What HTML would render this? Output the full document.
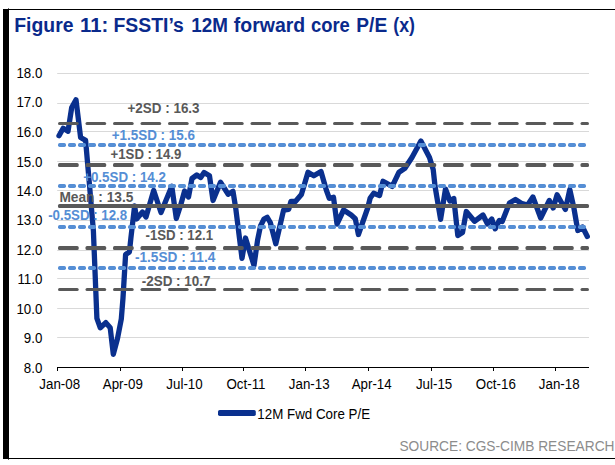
<!DOCTYPE html>
<html><head><meta charset="utf-8"><title>Figure 11</title>
<style>
html,body{margin:0;padding:0;background:#fff;}
body{width:615px;height:465px;overflow:hidden;font-family:"Liberation Sans",sans-serif;}
svg{display:block;}
text{font-family:"Liberation Sans",sans-serif;}
.ax{font-size:13.3px;fill:#000;}
.lb{font-size:13.2px;font-weight:bold;}
</style></head><body>
<svg width="615" height="465" viewBox="0 0 615 465">
<rect width="615" height="465" fill="#fff"/>
<rect x="3" y="9" width="6" height="450" fill="#000"/>
<rect x="8" y="9" width="607" height="1" fill="#000"/>
<rect x="8" y="8" width="1" height="1" fill="#000" opacity="0.6"/>
<rect x="8" y="459" width="1" height="1" fill="#000" opacity="0.6"/>
<rect x="8" y="458" width="607" height="1" fill="#000"/>
<text x="14.30" y="31.8" font-size="19.5" font-weight="bold" fill="#0a2a8c" textLength="59.16" lengthAdjust="spacingAndGlyphs">Figure</text>
<text x="80.12" y="31.8" font-size="19.5" font-weight="bold" fill="#0a2a8c" textLength="28.23" lengthAdjust="spacingAndGlyphs">11:</text>
<text x="113.50" y="31.8" font-size="19.5" font-weight="bold" fill="#0a2a8c" textLength="70.39" lengthAdjust="spacingAndGlyphs">FSSTI’s</text>
<text x="191.31" y="31.8" font-size="19.5" font-weight="bold" fill="#0a2a8c" textLength="36.65" lengthAdjust="spacingAndGlyphs">12M</text>
<text x="233.87" y="31.8" font-size="19.5" font-weight="bold" fill="#0a2a8c" textLength="71.31" lengthAdjust="spacingAndGlyphs">forward</text>
<text x="310.98" y="31.8" font-size="19.5" font-weight="bold" fill="#0a2a8c" textLength="38.85" lengthAdjust="spacingAndGlyphs">core</text>
<text x="356.32" y="31.8" font-size="19.5" font-weight="bold" fill="#0a2a8c" textLength="30.83" lengthAdjust="spacingAndGlyphs">P/E</text>
<text x="393.32" y="31.8" font-size="19.5" font-weight="bold" fill="#0a2a8c" textLength="21.67" lengthAdjust="spacingAndGlyphs">(x)</text>
<line x1="57.2" y1="73.50" x2="589.0" y2="73.50" stroke="#d9d9d9" stroke-width="1"/>
<text transform="translate(42.40,78.00) scale(0.9174,1)" font-size="14.53" text-anchor="end" fill="#000">18.0</text>
<line x1="57.2" y1="103.50" x2="589.0" y2="103.50" stroke="#d9d9d9" stroke-width="1"/>
<text transform="translate(42.40,107.00) scale(0.9174,1)" font-size="14.53" text-anchor="end" fill="#000">17.0</text>
<line x1="57.2" y1="131.50" x2="589.0" y2="131.50" stroke="#d9d9d9" stroke-width="1"/>
<text transform="translate(42.40,137.00) scale(0.9174,1)" font-size="14.53" text-anchor="end" fill="#000">16.0</text>
<line x1="57.2" y1="161.50" x2="589.0" y2="161.50" stroke="#d9d9d9" stroke-width="1"/>
<text transform="translate(42.40,167.00) scale(0.9174,1)" font-size="14.53" text-anchor="end" fill="#000">15.0</text>
<line x1="57.2" y1="190.50" x2="589.0" y2="190.50" stroke="#d9d9d9" stroke-width="1"/>
<text transform="translate(42.40,196.00) scale(0.9174,1)" font-size="14.53" text-anchor="end" fill="#000">14.0</text>
<line x1="57.2" y1="220.50" x2="589.0" y2="220.50" stroke="#d9d9d9" stroke-width="1"/>
<text transform="translate(42.40,225.00) scale(0.9174,1)" font-size="14.53" text-anchor="end" fill="#000">13.0</text>
<line x1="57.2" y1="250.50" x2="589.0" y2="250.50" stroke="#d9d9d9" stroke-width="1"/>
<text transform="translate(42.40,255.00) scale(0.9174,1)" font-size="14.53" text-anchor="end" fill="#000">12.0</text>
<line x1="57.2" y1="278.50" x2="589.0" y2="278.50" stroke="#d9d9d9" stroke-width="1"/>
<text transform="translate(42.40,284.00) scale(0.9174,1)" font-size="14.53" text-anchor="end" fill="#000">11.0</text>
<line x1="57.2" y1="308.50" x2="589.0" y2="308.50" stroke="#d9d9d9" stroke-width="1"/>
<text transform="translate(42.40,314.00) scale(0.9174,1)" font-size="14.53" text-anchor="end" fill="#000">10.0</text>
<line x1="57.2" y1="337.50" x2="589.0" y2="337.50" stroke="#d9d9d9" stroke-width="1"/>
<text transform="translate(42.40,343.00) scale(0.9174,1)" font-size="14.53" text-anchor="end" fill="#000">9.0</text>
<text transform="translate(42.40,373.00) scale(0.9174,1)" font-size="14.53" text-anchor="end" fill="#000">8.0</text>
<line x1="57" y1="367.5" x2="589.0" y2="367.5" stroke="#000" stroke-width="1"/>
<line x1="57.5" y1="367.0" x2="57.5" y2="371.0" stroke="#000" stroke-width="1"/>
<text transform="translate(59.75,389.00) scale(0.9174,1)" font-size="14.53" text-anchor="middle" fill="#000">Jan-08</text>
<line x1="120.5" y1="367.0" x2="120.5" y2="371.0" stroke="#000" stroke-width="1"/>
<text transform="translate(122.80,389.00) scale(0.9174,1)" font-size="14.53" text-anchor="middle" fill="#000">Apr-09</text>
<line x1="182.5" y1="367.0" x2="182.5" y2="371.0" stroke="#000" stroke-width="1"/>
<text transform="translate(184.50,389.00) scale(0.9174,1)" font-size="14.53" text-anchor="middle" fill="#000">Jul-10</text>
<line x1="243.5" y1="367.0" x2="243.5" y2="371.0" stroke="#000" stroke-width="1"/>
<text transform="translate(246.00,389.00) scale(0.9174,1)" font-size="14.53" text-anchor="middle" fill="#000">Oct-11</text>
<line x1="305.5" y1="367.0" x2="305.5" y2="371.0" stroke="#000" stroke-width="1"/>
<text transform="translate(309.20,389.00) scale(0.9174,1)" font-size="14.53" text-anchor="middle" fill="#000">Jan-13</text>
<line x1="368.5" y1="367.0" x2="368.5" y2="371.0" stroke="#000" stroke-width="1"/>
<text transform="translate(371.70,389.00) scale(0.9174,1)" font-size="14.53" text-anchor="middle" fill="#000">Apr-14</text>
<line x1="431.5" y1="367.0" x2="431.5" y2="371.0" stroke="#000" stroke-width="1"/>
<text transform="translate(434.10,389.00) scale(0.9174,1)" font-size="14.53" text-anchor="middle" fill="#000">Jul-15</text>
<line x1="493.5" y1="367.0" x2="493.5" y2="371.0" stroke="#000" stroke-width="1"/>
<text transform="translate(495.80,389.00) scale(0.9174,1)" font-size="14.53" text-anchor="middle" fill="#000">Oct-16</text>
<line x1="555.5" y1="367.0" x2="555.5" y2="371.0" stroke="#000" stroke-width="1"/>
<text transform="translate(559.20,389.00) scale(0.9174,1)" font-size="14.53" text-anchor="middle" fill="#000">Jan-18</text>
<path d="M59.0,135.8 L63.2,128.3 L68.0,131.3 L71.7,107.5 L76.0,99.8 L80.6,137.5 L85.6,140.4 L89.5,185.0 L93.4,231.0 L96.9,318.4 L100.3,327.8 L105.8,322.6 L110.2,327.8 L113.3,354.3 L117.5,338.5 L121.3,319.0 L123.0,298.0 L125.6,254.5 L129.4,252.0 L130.9,238.0 L134.6,206.0 L136.6,219.0 L142.5,212.0 L146.0,217.0 L153.7,190.5 L161.0,212.5 L171.8,186.3 L176.3,218.5 L180.7,205.0 L184.6,191.0 L188.5,197.0 L192.0,178.5 L196.8,175.0 L200.7,177.5 L204.1,172.5 L209.5,175.8 L213.0,200.5 L220.5,182.3 L228.2,194.2 L233.0,191.3 L235.7,208.0 L242.0,258.3 L245.5,238.0 L254.0,265.5 L257.6,240.0 L260.5,226.0 L264.0,219.0 L267.2,217.3 L270.3,222.5 L275.8,243.8 L283.6,210.0 L288.7,209.3 L291.0,201.3 L295.4,201.5 L301.4,194.5 L308.0,172.3 L313.8,175.8 L321.0,171.5 L326.3,190.0 L329.3,198.3 L333.5,197.3 L337.0,224.0 L343.6,210.0 L351.2,215.0 L355.3,218.7 L358.4,234.5 L367.7,208.0 L370.2,198.0 L373.7,193.2 L379.5,195.6 L383.0,181.3 L392.2,186.4 L399.0,172.2 L404.9,168.3 L412.1,157.2 L420.9,141.0 L429.5,157.5 L433.2,169.5 L435.0,186.0 L440.6,219.3 L445.5,189.0 L449.9,201.0 L453.8,198.5 L457.8,235.5 L462.5,232.5 L466.3,211.5 L474.5,221.3 L483.0,215.0 L487.5,224.0 L491.8,219.0 L495.2,228.8 L499.3,220.5 L502.2,221.5 L509.5,203.0 L515.4,199.5 L521.2,203.3 L527.6,205.0 L532.9,197.0 L540.7,218.0 L549.3,200.5 L553.2,208.0 L557.1,194.8 L565.4,209.5 L569.8,189.5 L573.9,208.0 L577.8,230.5 L582.5,227.0 L587.3,236.5" fill="none" stroke="#0a308e" stroke-width="5.3" stroke-linejoin="round" stroke-linecap="round"/>
<rect x="58.00" y="122.00" width="20.70" height="3.0" rx="1.5" fill="#595959"/>
<rect x="85.50" y="122.00" width="20.70" height="3.0" rx="1.5" fill="#595959"/>
<rect x="113.00" y="122.00" width="20.70" height="3.0" rx="1.5" fill="#595959"/>
<rect x="140.50" y="122.00" width="20.70" height="3.0" rx="1.5" fill="#595959"/>
<rect x="168.00" y="122.00" width="20.70" height="3.0" rx="1.5" fill="#595959"/>
<rect x="195.50" y="122.00" width="20.70" height="3.0" rx="1.5" fill="#595959"/>
<rect x="223.00" y="122.00" width="20.70" height="3.0" rx="1.5" fill="#595959"/>
<rect x="250.50" y="122.00" width="20.70" height="3.0" rx="1.5" fill="#595959"/>
<rect x="278.00" y="122.00" width="20.70" height="3.0" rx="1.5" fill="#595959"/>
<rect x="305.50" y="122.00" width="20.70" height="3.0" rx="1.5" fill="#595959"/>
<rect x="333.00" y="122.00" width="20.70" height="3.0" rx="1.5" fill="#595959"/>
<rect x="360.50" y="122.00" width="20.70" height="3.0" rx="1.5" fill="#595959"/>
<rect x="388.00" y="122.00" width="20.70" height="3.0" rx="1.5" fill="#595959"/>
<rect x="415.50" y="122.00" width="20.70" height="3.0" rx="1.5" fill="#595959"/>
<rect x="443.00" y="122.00" width="20.70" height="3.0" rx="1.5" fill="#595959"/>
<rect x="470.50" y="122.00" width="20.70" height="3.0" rx="1.5" fill="#595959"/>
<rect x="498.00" y="122.00" width="20.70" height="3.0" rx="1.5" fill="#595959"/>
<rect x="525.50" y="122.00" width="20.70" height="3.0" rx="1.5" fill="#595959"/>
<rect x="553.00" y="122.00" width="20.70" height="3.0" rx="1.5" fill="#595959"/>
<rect x="580.50" y="122.00" width="8.50" height="3.0" rx="1.5" fill="#595959"/>
<rect x="58.00" y="163.00" width="20.70" height="4.0" rx="1.5" fill="#595959"/>
<rect x="85.50" y="163.00" width="20.70" height="4.0" rx="1.5" fill="#595959"/>
<rect x="113.00" y="163.00" width="20.70" height="4.0" rx="1.5" fill="#595959"/>
<rect x="140.50" y="163.00" width="20.70" height="4.0" rx="1.5" fill="#595959"/>
<rect x="168.00" y="163.00" width="20.70" height="4.0" rx="1.5" fill="#595959"/>
<rect x="195.50" y="163.00" width="20.70" height="4.0" rx="1.5" fill="#595959"/>
<rect x="223.00" y="163.00" width="20.70" height="4.0" rx="1.5" fill="#595959"/>
<rect x="250.50" y="163.00" width="20.70" height="4.0" rx="1.5" fill="#595959"/>
<rect x="278.00" y="163.00" width="20.70" height="4.0" rx="1.5" fill="#595959"/>
<rect x="305.50" y="163.00" width="20.70" height="4.0" rx="1.5" fill="#595959"/>
<rect x="333.00" y="163.00" width="20.70" height="4.0" rx="1.5" fill="#595959"/>
<rect x="360.50" y="163.00" width="20.70" height="4.0" rx="1.5" fill="#595959"/>
<rect x="388.00" y="163.00" width="20.70" height="4.0" rx="1.5" fill="#595959"/>
<rect x="415.50" y="163.00" width="20.70" height="4.0" rx="1.5" fill="#595959"/>
<rect x="443.00" y="163.00" width="20.70" height="4.0" rx="1.5" fill="#595959"/>
<rect x="470.50" y="163.00" width="20.70" height="4.0" rx="1.5" fill="#595959"/>
<rect x="498.00" y="163.00" width="20.70" height="4.0" rx="1.5" fill="#595959"/>
<rect x="525.50" y="163.00" width="20.70" height="4.0" rx="1.5" fill="#595959"/>
<rect x="553.00" y="163.00" width="20.70" height="4.0" rx="1.5" fill="#595959"/>
<rect x="580.50" y="163.00" width="8.50" height="4.0" rx="1.5" fill="#595959"/>
<rect x="58.00" y="246.00" width="20.70" height="4.0" rx="1.5" fill="#595959"/>
<rect x="85.50" y="246.00" width="20.70" height="4.0" rx="1.5" fill="#595959"/>
<rect x="113.00" y="246.00" width="20.70" height="4.0" rx="1.5" fill="#595959"/>
<rect x="140.50" y="246.00" width="20.70" height="4.0" rx="1.5" fill="#595959"/>
<rect x="168.00" y="246.00" width="20.70" height="4.0" rx="1.5" fill="#595959"/>
<rect x="195.50" y="246.00" width="20.70" height="4.0" rx="1.5" fill="#595959"/>
<rect x="223.00" y="246.00" width="20.70" height="4.0" rx="1.5" fill="#595959"/>
<rect x="250.50" y="246.00" width="20.70" height="4.0" rx="1.5" fill="#595959"/>
<rect x="278.00" y="246.00" width="20.70" height="4.0" rx="1.5" fill="#595959"/>
<rect x="305.50" y="246.00" width="20.70" height="4.0" rx="1.5" fill="#595959"/>
<rect x="333.00" y="246.00" width="20.70" height="4.0" rx="1.5" fill="#595959"/>
<rect x="360.50" y="246.00" width="20.70" height="4.0" rx="1.5" fill="#595959"/>
<rect x="388.00" y="246.00" width="20.70" height="4.0" rx="1.5" fill="#595959"/>
<rect x="415.50" y="246.00" width="20.70" height="4.0" rx="1.5" fill="#595959"/>
<rect x="443.00" y="246.00" width="20.70" height="4.0" rx="1.5" fill="#595959"/>
<rect x="470.50" y="246.00" width="20.70" height="4.0" rx="1.5" fill="#595959"/>
<rect x="498.00" y="246.00" width="20.70" height="4.0" rx="1.5" fill="#595959"/>
<rect x="525.50" y="246.00" width="20.70" height="4.0" rx="1.5" fill="#595959"/>
<rect x="553.00" y="246.00" width="20.70" height="4.0" rx="1.5" fill="#595959"/>
<rect x="580.50" y="246.00" width="8.50" height="4.0" rx="1.5" fill="#595959"/>
<rect x="58.00" y="288.00" width="20.70" height="3.0" rx="1.5" fill="#595959"/>
<rect x="85.50" y="288.00" width="20.70" height="3.0" rx="1.5" fill="#595959"/>
<rect x="113.00" y="288.00" width="20.70" height="3.0" rx="1.5" fill="#595959"/>
<rect x="140.50" y="288.00" width="20.70" height="3.0" rx="1.5" fill="#595959"/>
<rect x="168.00" y="288.00" width="20.70" height="3.0" rx="1.5" fill="#595959"/>
<rect x="195.50" y="288.00" width="20.70" height="3.0" rx="1.5" fill="#595959"/>
<rect x="223.00" y="288.00" width="20.70" height="3.0" rx="1.5" fill="#595959"/>
<rect x="250.50" y="288.00" width="20.70" height="3.0" rx="1.5" fill="#595959"/>
<rect x="278.00" y="288.00" width="20.70" height="3.0" rx="1.5" fill="#595959"/>
<rect x="305.50" y="288.00" width="20.70" height="3.0" rx="1.5" fill="#595959"/>
<rect x="333.00" y="288.00" width="20.70" height="3.0" rx="1.5" fill="#595959"/>
<rect x="360.50" y="288.00" width="20.70" height="3.0" rx="1.5" fill="#595959"/>
<rect x="388.00" y="288.00" width="20.70" height="3.0" rx="1.5" fill="#595959"/>
<rect x="415.50" y="288.00" width="20.70" height="3.0" rx="1.5" fill="#595959"/>
<rect x="443.00" y="288.00" width="20.70" height="3.0" rx="1.5" fill="#595959"/>
<rect x="470.50" y="288.00" width="20.70" height="3.0" rx="1.5" fill="#595959"/>
<rect x="498.00" y="288.00" width="20.70" height="3.0" rx="1.5" fill="#595959"/>
<rect x="525.50" y="288.00" width="20.70" height="3.0" rx="1.5" fill="#595959"/>
<rect x="553.00" y="288.00" width="20.70" height="3.0" rx="1.5" fill="#595959"/>
<rect x="580.50" y="288.00" width="8.50" height="3.0" rx="1.5" fill="#595959"/>
<rect x="58.00" y="143.00" width="8" height="4.0" rx="1.7" fill="#558ed5"/>
<rect x="68.00" y="143.00" width="8" height="4.0" rx="1.7" fill="#558ed5"/>
<rect x="78.00" y="143.00" width="8" height="4.0" rx="1.7" fill="#558ed5"/>
<rect x="88.00" y="143.00" width="8" height="4.0" rx="1.7" fill="#558ed5"/>
<rect x="98.00" y="143.00" width="8" height="4.0" rx="1.7" fill="#558ed5"/>
<rect x="108.00" y="143.00" width="8" height="4.0" rx="1.7" fill="#558ed5"/>
<rect x="118.00" y="143.00" width="8" height="4.0" rx="1.7" fill="#558ed5"/>
<rect x="128.00" y="143.00" width="8" height="4.0" rx="1.7" fill="#558ed5"/>
<rect x="138.00" y="143.00" width="8" height="4.0" rx="1.7" fill="#558ed5"/>
<rect x="148.00" y="143.00" width="8" height="4.0" rx="1.7" fill="#558ed5"/>
<rect x="158.00" y="143.00" width="8" height="4.0" rx="1.7" fill="#558ed5"/>
<rect x="168.00" y="143.00" width="8" height="4.0" rx="1.7" fill="#558ed5"/>
<rect x="178.00" y="143.00" width="8" height="4.0" rx="1.7" fill="#558ed5"/>
<rect x="188.00" y="143.00" width="8" height="4.0" rx="1.7" fill="#558ed5"/>
<rect x="198.00" y="143.00" width="8" height="4.0" rx="1.7" fill="#558ed5"/>
<rect x="208.00" y="143.00" width="8" height="4.0" rx="1.7" fill="#558ed5"/>
<rect x="218.00" y="143.00" width="8" height="4.0" rx="1.7" fill="#558ed5"/>
<rect x="228.00" y="143.00" width="8" height="4.0" rx="1.7" fill="#558ed5"/>
<rect x="238.00" y="143.00" width="8" height="4.0" rx="1.7" fill="#558ed5"/>
<rect x="248.00" y="143.00" width="8" height="4.0" rx="1.7" fill="#558ed5"/>
<rect x="258.00" y="143.00" width="8" height="4.0" rx="1.7" fill="#558ed5"/>
<rect x="268.00" y="143.00" width="8" height="4.0" rx="1.7" fill="#558ed5"/>
<rect x="278.00" y="143.00" width="8" height="4.0" rx="1.7" fill="#558ed5"/>
<rect x="288.00" y="143.00" width="8" height="4.0" rx="1.7" fill="#558ed5"/>
<rect x="298.00" y="143.00" width="8" height="4.0" rx="1.7" fill="#558ed5"/>
<rect x="308.00" y="143.00" width="8" height="4.0" rx="1.7" fill="#558ed5"/>
<rect x="318.00" y="143.00" width="8" height="4.0" rx="1.7" fill="#558ed5"/>
<rect x="328.00" y="143.00" width="8" height="4.0" rx="1.7" fill="#558ed5"/>
<rect x="338.00" y="143.00" width="8" height="4.0" rx="1.7" fill="#558ed5"/>
<rect x="348.00" y="143.00" width="8" height="4.0" rx="1.7" fill="#558ed5"/>
<rect x="358.00" y="143.00" width="8" height="4.0" rx="1.7" fill="#558ed5"/>
<rect x="368.00" y="143.00" width="8" height="4.0" rx="1.7" fill="#558ed5"/>
<rect x="378.00" y="143.00" width="8" height="4.0" rx="1.7" fill="#558ed5"/>
<rect x="388.00" y="143.00" width="8" height="4.0" rx="1.7" fill="#558ed5"/>
<rect x="398.00" y="143.00" width="8" height="4.0" rx="1.7" fill="#558ed5"/>
<rect x="408.00" y="143.00" width="8" height="4.0" rx="1.7" fill="#558ed5"/>
<rect x="418.00" y="143.00" width="8" height="4.0" rx="1.7" fill="#558ed5"/>
<rect x="428.00" y="143.00" width="8" height="4.0" rx="1.7" fill="#558ed5"/>
<rect x="438.00" y="143.00" width="8" height="4.0" rx="1.7" fill="#558ed5"/>
<rect x="448.00" y="143.00" width="8" height="4.0" rx="1.7" fill="#558ed5"/>
<rect x="458.00" y="143.00" width="8" height="4.0" rx="1.7" fill="#558ed5"/>
<rect x="468.00" y="143.00" width="8" height="4.0" rx="1.7" fill="#558ed5"/>
<rect x="478.00" y="143.00" width="8" height="4.0" rx="1.7" fill="#558ed5"/>
<rect x="488.00" y="143.00" width="8" height="4.0" rx="1.7" fill="#558ed5"/>
<rect x="498.00" y="143.00" width="8" height="4.0" rx="1.7" fill="#558ed5"/>
<rect x="508.00" y="143.00" width="8" height="4.0" rx="1.7" fill="#558ed5"/>
<rect x="518.00" y="143.00" width="8" height="4.0" rx="1.7" fill="#558ed5"/>
<rect x="528.00" y="143.00" width="8" height="4.0" rx="1.7" fill="#558ed5"/>
<rect x="538.00" y="143.00" width="8" height="4.0" rx="1.7" fill="#558ed5"/>
<rect x="548.00" y="143.00" width="8" height="4.0" rx="1.7" fill="#558ed5"/>
<rect x="558.00" y="143.00" width="8" height="4.0" rx="1.7" fill="#558ed5"/>
<rect x="568.00" y="143.00" width="8" height="4.0" rx="1.7" fill="#558ed5"/>
<rect x="578.00" y="143.00" width="8" height="4.0" rx="1.7" fill="#558ed5"/>
<rect x="58.00" y="184.00" width="8" height="4.0" rx="1.7" fill="#558ed5"/>
<rect x="68.00" y="184.00" width="8" height="4.0" rx="1.7" fill="#558ed5"/>
<rect x="78.00" y="184.00" width="8" height="4.0" rx="1.7" fill="#558ed5"/>
<rect x="88.00" y="184.00" width="8" height="4.0" rx="1.7" fill="#558ed5"/>
<rect x="98.00" y="184.00" width="8" height="4.0" rx="1.7" fill="#558ed5"/>
<rect x="108.00" y="184.00" width="8" height="4.0" rx="1.7" fill="#558ed5"/>
<rect x="118.00" y="184.00" width="8" height="4.0" rx="1.7" fill="#558ed5"/>
<rect x="128.00" y="184.00" width="8" height="4.0" rx="1.7" fill="#558ed5"/>
<rect x="138.00" y="184.00" width="8" height="4.0" rx="1.7" fill="#558ed5"/>
<rect x="148.00" y="184.00" width="8" height="4.0" rx="1.7" fill="#558ed5"/>
<rect x="158.00" y="184.00" width="8" height="4.0" rx="1.7" fill="#558ed5"/>
<rect x="168.00" y="184.00" width="8" height="4.0" rx="1.7" fill="#558ed5"/>
<rect x="178.00" y="184.00" width="8" height="4.0" rx="1.7" fill="#558ed5"/>
<rect x="188.00" y="184.00" width="8" height="4.0" rx="1.7" fill="#558ed5"/>
<rect x="198.00" y="184.00" width="8" height="4.0" rx="1.7" fill="#558ed5"/>
<rect x="208.00" y="184.00" width="8" height="4.0" rx="1.7" fill="#558ed5"/>
<rect x="218.00" y="184.00" width="8" height="4.0" rx="1.7" fill="#558ed5"/>
<rect x="228.00" y="184.00" width="8" height="4.0" rx="1.7" fill="#558ed5"/>
<rect x="238.00" y="184.00" width="8" height="4.0" rx="1.7" fill="#558ed5"/>
<rect x="248.00" y="184.00" width="8" height="4.0" rx="1.7" fill="#558ed5"/>
<rect x="258.00" y="184.00" width="8" height="4.0" rx="1.7" fill="#558ed5"/>
<rect x="268.00" y="184.00" width="8" height="4.0" rx="1.7" fill="#558ed5"/>
<rect x="278.00" y="184.00" width="8" height="4.0" rx="1.7" fill="#558ed5"/>
<rect x="288.00" y="184.00" width="8" height="4.0" rx="1.7" fill="#558ed5"/>
<rect x="298.00" y="184.00" width="8" height="4.0" rx="1.7" fill="#558ed5"/>
<rect x="308.00" y="184.00" width="8" height="4.0" rx="1.7" fill="#558ed5"/>
<rect x="318.00" y="184.00" width="8" height="4.0" rx="1.7" fill="#558ed5"/>
<rect x="328.00" y="184.00" width="8" height="4.0" rx="1.7" fill="#558ed5"/>
<rect x="338.00" y="184.00" width="8" height="4.0" rx="1.7" fill="#558ed5"/>
<rect x="348.00" y="184.00" width="8" height="4.0" rx="1.7" fill="#558ed5"/>
<rect x="358.00" y="184.00" width="8" height="4.0" rx="1.7" fill="#558ed5"/>
<rect x="368.00" y="184.00" width="8" height="4.0" rx="1.7" fill="#558ed5"/>
<rect x="378.00" y="184.00" width="8" height="4.0" rx="1.7" fill="#558ed5"/>
<rect x="388.00" y="184.00" width="8" height="4.0" rx="1.7" fill="#558ed5"/>
<rect x="398.00" y="184.00" width="8" height="4.0" rx="1.7" fill="#558ed5"/>
<rect x="408.00" y="184.00" width="8" height="4.0" rx="1.7" fill="#558ed5"/>
<rect x="418.00" y="184.00" width="8" height="4.0" rx="1.7" fill="#558ed5"/>
<rect x="428.00" y="184.00" width="8" height="4.0" rx="1.7" fill="#558ed5"/>
<rect x="438.00" y="184.00" width="8" height="4.0" rx="1.7" fill="#558ed5"/>
<rect x="448.00" y="184.00" width="8" height="4.0" rx="1.7" fill="#558ed5"/>
<rect x="458.00" y="184.00" width="8" height="4.0" rx="1.7" fill="#558ed5"/>
<rect x="468.00" y="184.00" width="8" height="4.0" rx="1.7" fill="#558ed5"/>
<rect x="478.00" y="184.00" width="8" height="4.0" rx="1.7" fill="#558ed5"/>
<rect x="488.00" y="184.00" width="8" height="4.0" rx="1.7" fill="#558ed5"/>
<rect x="498.00" y="184.00" width="8" height="4.0" rx="1.7" fill="#558ed5"/>
<rect x="508.00" y="184.00" width="8" height="4.0" rx="1.7" fill="#558ed5"/>
<rect x="518.00" y="184.00" width="8" height="4.0" rx="1.7" fill="#558ed5"/>
<rect x="528.00" y="184.00" width="8" height="4.0" rx="1.7" fill="#558ed5"/>
<rect x="538.00" y="184.00" width="8" height="4.0" rx="1.7" fill="#558ed5"/>
<rect x="548.00" y="184.00" width="8" height="4.0" rx="1.7" fill="#558ed5"/>
<rect x="558.00" y="184.00" width="8" height="4.0" rx="1.7" fill="#558ed5"/>
<rect x="568.00" y="184.00" width="8" height="4.0" rx="1.7" fill="#558ed5"/>
<rect x="578.00" y="184.00" width="8" height="4.0" rx="1.7" fill="#558ed5"/>
<rect x="58.00" y="225.00" width="8" height="4.0" rx="1.7" fill="#558ed5"/>
<rect x="68.00" y="225.00" width="8" height="4.0" rx="1.7" fill="#558ed5"/>
<rect x="78.00" y="225.00" width="8" height="4.0" rx="1.7" fill="#558ed5"/>
<rect x="88.00" y="225.00" width="8" height="4.0" rx="1.7" fill="#558ed5"/>
<rect x="98.00" y="225.00" width="8" height="4.0" rx="1.7" fill="#558ed5"/>
<rect x="108.00" y="225.00" width="8" height="4.0" rx="1.7" fill="#558ed5"/>
<rect x="118.00" y="225.00" width="8" height="4.0" rx="1.7" fill="#558ed5"/>
<rect x="128.00" y="225.00" width="8" height="4.0" rx="1.7" fill="#558ed5"/>
<rect x="138.00" y="225.00" width="8" height="4.0" rx="1.7" fill="#558ed5"/>
<rect x="148.00" y="225.00" width="8" height="4.0" rx="1.7" fill="#558ed5"/>
<rect x="158.00" y="225.00" width="8" height="4.0" rx="1.7" fill="#558ed5"/>
<rect x="168.00" y="225.00" width="8" height="4.0" rx="1.7" fill="#558ed5"/>
<rect x="178.00" y="225.00" width="8" height="4.0" rx="1.7" fill="#558ed5"/>
<rect x="188.00" y="225.00" width="8" height="4.0" rx="1.7" fill="#558ed5"/>
<rect x="198.00" y="225.00" width="8" height="4.0" rx="1.7" fill="#558ed5"/>
<rect x="208.00" y="225.00" width="8" height="4.0" rx="1.7" fill="#558ed5"/>
<rect x="218.00" y="225.00" width="8" height="4.0" rx="1.7" fill="#558ed5"/>
<rect x="228.00" y="225.00" width="8" height="4.0" rx="1.7" fill="#558ed5"/>
<rect x="238.00" y="225.00" width="8" height="4.0" rx="1.7" fill="#558ed5"/>
<rect x="248.00" y="225.00" width="8" height="4.0" rx="1.7" fill="#558ed5"/>
<rect x="258.00" y="225.00" width="8" height="4.0" rx="1.7" fill="#558ed5"/>
<rect x="268.00" y="225.00" width="8" height="4.0" rx="1.7" fill="#558ed5"/>
<rect x="278.00" y="225.00" width="8" height="4.0" rx="1.7" fill="#558ed5"/>
<rect x="288.00" y="225.00" width="8" height="4.0" rx="1.7" fill="#558ed5"/>
<rect x="298.00" y="225.00" width="8" height="4.0" rx="1.7" fill="#558ed5"/>
<rect x="308.00" y="225.00" width="8" height="4.0" rx="1.7" fill="#558ed5"/>
<rect x="318.00" y="225.00" width="8" height="4.0" rx="1.7" fill="#558ed5"/>
<rect x="328.00" y="225.00" width="8" height="4.0" rx="1.7" fill="#558ed5"/>
<rect x="338.00" y="225.00" width="8" height="4.0" rx="1.7" fill="#558ed5"/>
<rect x="348.00" y="225.00" width="8" height="4.0" rx="1.7" fill="#558ed5"/>
<rect x="358.00" y="225.00" width="8" height="4.0" rx="1.7" fill="#558ed5"/>
<rect x="368.00" y="225.00" width="8" height="4.0" rx="1.7" fill="#558ed5"/>
<rect x="378.00" y="225.00" width="8" height="4.0" rx="1.7" fill="#558ed5"/>
<rect x="388.00" y="225.00" width="8" height="4.0" rx="1.7" fill="#558ed5"/>
<rect x="398.00" y="225.00" width="8" height="4.0" rx="1.7" fill="#558ed5"/>
<rect x="408.00" y="225.00" width="8" height="4.0" rx="1.7" fill="#558ed5"/>
<rect x="418.00" y="225.00" width="8" height="4.0" rx="1.7" fill="#558ed5"/>
<rect x="428.00" y="225.00" width="8" height="4.0" rx="1.7" fill="#558ed5"/>
<rect x="438.00" y="225.00" width="8" height="4.0" rx="1.7" fill="#558ed5"/>
<rect x="448.00" y="225.00" width="8" height="4.0" rx="1.7" fill="#558ed5"/>
<rect x="458.00" y="225.00" width="8" height="4.0" rx="1.7" fill="#558ed5"/>
<rect x="468.00" y="225.00" width="8" height="4.0" rx="1.7" fill="#558ed5"/>
<rect x="478.00" y="225.00" width="8" height="4.0" rx="1.7" fill="#558ed5"/>
<rect x="488.00" y="225.00" width="8" height="4.0" rx="1.7" fill="#558ed5"/>
<rect x="498.00" y="225.00" width="8" height="4.0" rx="1.7" fill="#558ed5"/>
<rect x="508.00" y="225.00" width="8" height="4.0" rx="1.7" fill="#558ed5"/>
<rect x="518.00" y="225.00" width="8" height="4.0" rx="1.7" fill="#558ed5"/>
<rect x="528.00" y="225.00" width="8" height="4.0" rx="1.7" fill="#558ed5"/>
<rect x="538.00" y="225.00" width="8" height="4.0" rx="1.7" fill="#558ed5"/>
<rect x="548.00" y="225.00" width="8" height="4.0" rx="1.7" fill="#558ed5"/>
<rect x="558.00" y="225.00" width="8" height="4.0" rx="1.7" fill="#558ed5"/>
<rect x="568.00" y="225.00" width="8" height="4.0" rx="1.7" fill="#558ed5"/>
<rect x="578.00" y="225.00" width="8" height="4.0" rx="1.7" fill="#558ed5"/>
<rect x="58.00" y="266.00" width="8" height="4.0" rx="1.7" fill="#558ed5"/>
<rect x="68.00" y="266.00" width="8" height="4.0" rx="1.7" fill="#558ed5"/>
<rect x="78.00" y="266.00" width="8" height="4.0" rx="1.7" fill="#558ed5"/>
<rect x="88.00" y="266.00" width="8" height="4.0" rx="1.7" fill="#558ed5"/>
<rect x="98.00" y="266.00" width="8" height="4.0" rx="1.7" fill="#558ed5"/>
<rect x="108.00" y="266.00" width="8" height="4.0" rx="1.7" fill="#558ed5"/>
<rect x="118.00" y="266.00" width="8" height="4.0" rx="1.7" fill="#558ed5"/>
<rect x="128.00" y="266.00" width="8" height="4.0" rx="1.7" fill="#558ed5"/>
<rect x="138.00" y="266.00" width="8" height="4.0" rx="1.7" fill="#558ed5"/>
<rect x="148.00" y="266.00" width="8" height="4.0" rx="1.7" fill="#558ed5"/>
<rect x="158.00" y="266.00" width="8" height="4.0" rx="1.7" fill="#558ed5"/>
<rect x="168.00" y="266.00" width="8" height="4.0" rx="1.7" fill="#558ed5"/>
<rect x="178.00" y="266.00" width="8" height="4.0" rx="1.7" fill="#558ed5"/>
<rect x="188.00" y="266.00" width="8" height="4.0" rx="1.7" fill="#558ed5"/>
<rect x="198.00" y="266.00" width="8" height="4.0" rx="1.7" fill="#558ed5"/>
<rect x="208.00" y="266.00" width="8" height="4.0" rx="1.7" fill="#558ed5"/>
<rect x="218.00" y="266.00" width="8" height="4.0" rx="1.7" fill="#558ed5"/>
<rect x="228.00" y="266.00" width="8" height="4.0" rx="1.7" fill="#558ed5"/>
<rect x="238.00" y="266.00" width="8" height="4.0" rx="1.7" fill="#558ed5"/>
<rect x="248.00" y="266.00" width="8" height="4.0" rx="1.7" fill="#558ed5"/>
<rect x="258.00" y="266.00" width="8" height="4.0" rx="1.7" fill="#558ed5"/>
<rect x="268.00" y="266.00" width="8" height="4.0" rx="1.7" fill="#558ed5"/>
<rect x="278.00" y="266.00" width="8" height="4.0" rx="1.7" fill="#558ed5"/>
<rect x="288.00" y="266.00" width="8" height="4.0" rx="1.7" fill="#558ed5"/>
<rect x="298.00" y="266.00" width="8" height="4.0" rx="1.7" fill="#558ed5"/>
<rect x="308.00" y="266.00" width="8" height="4.0" rx="1.7" fill="#558ed5"/>
<rect x="318.00" y="266.00" width="8" height="4.0" rx="1.7" fill="#558ed5"/>
<rect x="328.00" y="266.00" width="8" height="4.0" rx="1.7" fill="#558ed5"/>
<rect x="338.00" y="266.00" width="8" height="4.0" rx="1.7" fill="#558ed5"/>
<rect x="348.00" y="266.00" width="8" height="4.0" rx="1.7" fill="#558ed5"/>
<rect x="358.00" y="266.00" width="8" height="4.0" rx="1.7" fill="#558ed5"/>
<rect x="368.00" y="266.00" width="8" height="4.0" rx="1.7" fill="#558ed5"/>
<rect x="378.00" y="266.00" width="8" height="4.0" rx="1.7" fill="#558ed5"/>
<rect x="388.00" y="266.00" width="8" height="4.0" rx="1.7" fill="#558ed5"/>
<rect x="398.00" y="266.00" width="8" height="4.0" rx="1.7" fill="#558ed5"/>
<rect x="408.00" y="266.00" width="8" height="4.0" rx="1.7" fill="#558ed5"/>
<rect x="418.00" y="266.00" width="8" height="4.0" rx="1.7" fill="#558ed5"/>
<rect x="428.00" y="266.00" width="8" height="4.0" rx="1.7" fill="#558ed5"/>
<rect x="438.00" y="266.00" width="8" height="4.0" rx="1.7" fill="#558ed5"/>
<rect x="448.00" y="266.00" width="8" height="4.0" rx="1.7" fill="#558ed5"/>
<rect x="458.00" y="266.00" width="8" height="4.0" rx="1.7" fill="#558ed5"/>
<rect x="468.00" y="266.00" width="8" height="4.0" rx="1.7" fill="#558ed5"/>
<rect x="478.00" y="266.00" width="8" height="4.0" rx="1.7" fill="#558ed5"/>
<rect x="488.00" y="266.00" width="8" height="4.0" rx="1.7" fill="#558ed5"/>
<rect x="498.00" y="266.00" width="8" height="4.0" rx="1.7" fill="#558ed5"/>
<rect x="508.00" y="266.00" width="8" height="4.0" rx="1.7" fill="#558ed5"/>
<rect x="518.00" y="266.00" width="8" height="4.0" rx="1.7" fill="#558ed5"/>
<rect x="528.00" y="266.00" width="8" height="4.0" rx="1.7" fill="#558ed5"/>
<rect x="538.00" y="266.00" width="8" height="4.0" rx="1.7" fill="#558ed5"/>
<rect x="548.00" y="266.00" width="8" height="4.0" rx="1.7" fill="#558ed5"/>
<rect x="558.00" y="266.00" width="8" height="4.0" rx="1.7" fill="#558ed5"/>
<rect x="568.00" y="266.00" width="8" height="4.0" rx="1.7" fill="#558ed5"/>
<rect x="578.00" y="266.00" width="8" height="4.0" rx="1.7" fill="#558ed5"/>
<rect x="58" y="204" width="531" height="4" rx="1.5" fill="#595959"/>
<text x="127.54" y="113" font-size="14.4" font-weight="bold" fill="#595959" textLength="72.05" lengthAdjust="spacingAndGlyphs">+2SD : 16.3</text>
<text x="111.74" y="140" font-size="14.4" font-weight="bold" fill="#558ed5" textLength="83.15" lengthAdjust="spacingAndGlyphs">+1.5SD : 15.6</text>
<text x="110.55" y="159" font-size="14.4" font-weight="bold" fill="#595959" textLength="70.74" lengthAdjust="spacingAndGlyphs">+1SD : 14.9</text>
<text x="83.14" y="182" font-size="14.4" font-weight="bold" fill="#558ed5" textLength="82.80" lengthAdjust="spacingAndGlyphs">+0.5SD : 14.2</text>
<text x="59.38" y="202" font-size="14.4" font-weight="bold" fill="#595959" textLength="74.00" lengthAdjust="spacingAndGlyphs">Mean : 13.5</text>
<text x="48.18" y="220" font-size="14.4" font-weight="bold" fill="#558ed5" textLength="79.03" lengthAdjust="spacingAndGlyphs">-0.5SD : 12.8</text>
<text x="145.58" y="240" font-size="14.4" font-weight="bold" fill="#595959" textLength="67.48" lengthAdjust="spacingAndGlyphs">-1SD : 12.1</text>
<text x="134.97" y="262" font-size="14.4" font-weight="bold" fill="#558ed5" textLength="80.31" lengthAdjust="spacingAndGlyphs">-1.5SD : 11.4</text>
<text x="141.78" y="286" font-size="14.4" font-weight="bold" fill="#595959" textLength="68.61" lengthAdjust="spacingAndGlyphs">-2SD : 10.7</text>
<rect x="218" y="410" width="37.8" height="6" rx="1.7" fill="#0a308e"/>
<text transform="translate(257.30,419.00) scale(0.9174,1)" font-size="14.56" text-anchor="start" fill="#000">12M Fwd Core P/E</text>
<text transform="translate(614.50,451.00) scale(0.9174,1)" font-size="14.97" text-anchor="end" fill="#8c8c8c">SOURCE: CGS-CIMB RESEARCH</text>
</svg></body></html>
